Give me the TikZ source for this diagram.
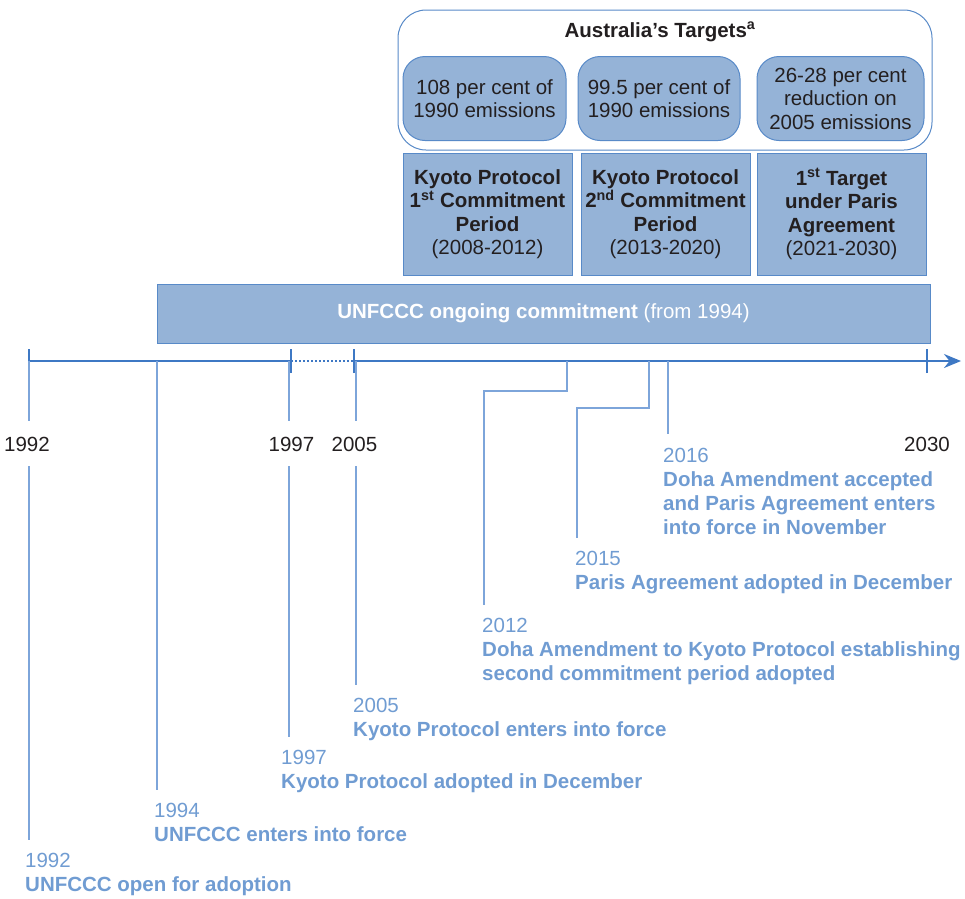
\documentclass[tikz,border=0pt]{standalone}
\usepackage{fontspec}
\setmainfont{Liberation Sans}
\usetikzlibrary{arrows.meta}
\definecolor{boxfill}{RGB}{149,179,215}
\definecolor{boxedge}{RGB}{88,138,200}
\definecolor{axisblue}{RGB}{62,120,196}
\definecolor{linkblue}{RGB}{125,165,218}
\definecolor{evtext}{RGB}{112,156,210}
\definecolor{ink}{RGB}{35,31,32}
\begin{document}
\begin{tikzpicture}[x=1pt,y=-1pt,
  every node/.style={font=\fontsize{20.5}{23.5}\selectfont, text=ink},
  tgtbox/.style={draw=boxedge, fill=boxfill, rounded corners=22pt, line width=1pt, align=center, inner sep=0pt},
  perbox/.style={draw=boxedge, fill=boxfill, line width=1pt, align=center, inner sep=0pt, minimum width=169pt, minimum height=122pt},
  yearlbl/.style={anchor=base, inner xsep=2pt, inner ysep=15pt, text height=15pt, text depth=0pt},
  evlbl/.style={anchor=base west, align=left, inner xsep=0pt, inner ysep=13pt, text=evtext, font=\fontsize{20.5}{24.3}\selectfont},
  axisline/.style={draw=axisblue, line width=2pt},
  tickmark/.style={draw=axisblue, line width=2pt},
  link/.style={draw=linkblue, line width=1.5pt},
]
\useasboundingbox (0,0) rectangle (965,898);

% Australia's targets
\node[draw=boxedge, fill=white, rounded corners=28pt, line width=1pt, minimum width=534pt, minimum height=140pt, inner sep=0pt] (outer) at (665,80) {};
\node[font=\bfseries\fontsize{20.5}{23.5}\selectfont] (title) at (660,32) {Australia’s Targets\textsuperscript{a}};
\node[tgtbox, minimum width=163pt, minimum height=84pt] (t1) at (484.5,98.5) {108 per cent of\\1990 emissions};
\node[tgtbox, minimum width=162pt, minimum height=84pt] (t2) at (659,98.5) {99.5 per cent of\\1990 emissions};
\node[tgtbox, minimum width=167pt, minimum height=84pt] (t3) at (840.5,98.5) {26-28 per cent\\reduction on\\2005 emissions};

% periods
\node[perbox] (p1) at (487.5,214) {\textbf{Kyoto Protocol}\\\textbf{1\textsuperscript{st} Commitment}\\\textbf{Period}\\(2008-2012)};
\node[perbox] (p2) at (665.5,214) {\textbf{Kyoto Protocol}\\\textbf{2\textsuperscript{nd} Commitment}\\\textbf{Period}\\(2013-2020)};
\node[perbox] (p3) at (841.5,214) {\textbf{1\textsuperscript{st} Target}\\\textbf{under Paris}\\\textbf{Agreement}\\(2021-2030)};
\node[perbox, minimum width=773pt, minimum height=59pt, text=white] (bar) at (543.5,313.5) {\textbf{UNFCCC ongoing commitment} (from 1994)};

% axis
\coordinate (a1992) at (29,361);
\coordinate (a1994) at (157,361);
\coordinate (a1997) at (291,361);
\coordinate (a2005) at (354,361);
\coordinate (a2012) at (567,361);
\coordinate (a2015) at (649,361);
\coordinate (a2016) at (668,361);
\coordinate (a2030) at (927,361);
\coordinate (aend) at (961,361);
\draw[axisline] (a1992) -- (a1997);
\draw[axisblue, line width=1.2pt, dash pattern=on 2pt off 2pt] (a1997) -- (a2005);
\draw[axisline, -{Stealth[length=17pt,width=14pt]}] (a2005) -- (aend);
\foreach \t in {a1992,a1997,a2005,a2030}
  \draw[tickmark] ([yshift=-12pt]\t) -- ([yshift=12pt]\t);

% year labels
\node[yearlbl] (y1992) at (27,451) {1992};
\node[yearlbl] (y1997) at (291.5,451) {1997};
\node[yearlbl] (y2005) at (354.5,451) {2005};
\node[yearlbl] (y2030) at (927,451) {2030};

% events (anchor = baseline of last line)
\node[evlbl] (e1992) at (25,891.3) {1992\\\textbf{UNFCCC open for adoption}};
\node[evlbl] (e1994) at (154,841.3) {1994\\\textbf{UNFCCC enters into force}};
\node[evlbl] (e1997) at (281,788.3) {1997\\\textbf{Kyoto Protocol adopted in December}};
\node[evlbl] (e2005) at (353,736.3) {2005\\\textbf{Kyoto Protocol enters into force}};
\node[evlbl] (e2012) at (482,680.6) {2012\\\textbf{Doha Amendment to Kyoto Protocol establishing}\\\textbf{second commitment period adopted}};
\node[evlbl] (e2015) at (575,589.3) {2015\\\textbf{Paris Agreement adopted in December}};
\node[evlbl] (e2016) at (663,534.9) {2016\\\textbf{Doha Amendment accepted}\\\textbf{and Paris Agreement enters}\\\textbf{into force in November}};

% connectors
\draw[link] (a1992) -- (a1992 |- y1992.north);
\draw[link] (a1992 |- y1992.south) -- (a1992 |- e1992.north);
\draw[link] (a1994) -- (a1994 |- e1994.north);
\coordinate (c1997) at (289,361);
\draw[link] (c1997) -- (c1997 |- y1997.north);
\draw[link] (c1997 |- y1997.south) -- (c1997 |- e1997.north);
\coordinate (c2005) at (356,361);
\draw[link] (c2005) -- (c2005 |- y2005.north);
\draw[link] (c2005 |- y2005.south) -- (c2005 |- e2005.north);
\coordinate (k2012) at (484,391);
\draw[link] (a2012) |- (k2012) -- (k2012 |- e2012.north);
\coordinate (k2015) at (577,408);
\draw[link] (a2015) |- (k2015) -- (k2015 |- e2015.north);
\draw[link] (a2016) -- (a2016 |- e2016.north);
\end{tikzpicture}
\end{document}
